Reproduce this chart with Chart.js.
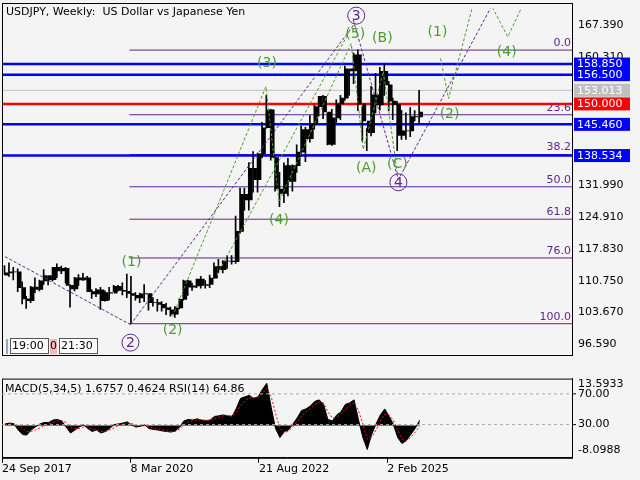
<!DOCTYPE html>
<html><head><meta charset="utf-8">
<script src="https://cdn.jsdelivr.net/npm/chart.js@4"></script>
<style>body{margin:0;background:#f4f4f4;width:640px;height:480px;overflow:hidden;position:relative}
canvas{position:absolute;left:0}</style></head><body>
<div style="position:absolute;left:0;top:0;width:640px;height:357px"><canvas id="c1"></canvas></div>
<div style="position:absolute;left:0;top:370px;width:640px;height:106px"><canvas id="c2"></canvas></div>
<script>
const startMonth = [2017, 9];
const closes = [112.5,112.7,112.7,
109.2,106.7,106.3,109.3,108.8,110.7,111.9,111.0,113.7,112.9,113.5,109.7,
108.9,111.4,110.9,111.4,108.3,107.8,108.7,106.3,108.1,108.0,109.5,108.6,
108.4,107.9,107.5,106.9,107.8,107.9,105.9,105.9,105.5,104.7,104.3,103.3,
104.7,106.6,110.7,109.3,109.6,111.1,109.7,109.9,111.3,113.9,113.2,115.1,
115.1,115.0,121.7,129.9,128.7,135.7,133.2,138.9,144.7,148.7,138.1,131.1,
130.1,136.3,132.8,136.3,139.3,144.3,142.3,145.5,149.4,151.7,148.2,141.0,
146.9,150.0,151.3,157.8,157.3,160.9,150.0,146.2,143.6,152.0,149.8,157.2,
154.2,150.6,149.9,143.0,144.0,144.0,147.2,147.1,148.2];
const highs = [114.1,114.7,113.7,
113.4,110.5,107.3,109.5,111.4,110.9,113.2,111.8,113.7,114.5,114.0,113.7,
109.9,111.5,112.1,112.4,111.7,108.8,109.0,109.3,108.5,109.3,109.7,109.7,
110.3,112.2,111.7,108.1,108.0,109.9,107.8,107.0,106.6,106.1,105.7,104.9,
105.0,106.7,110.9,110.9,110.2,111.1,111.7,110.8,112.0,114.7,115.5,115.2,
116.3,116.3,125.1,131.3,131.3,137.0,139.4,139.1,145.9,151.9,148.8,138.2,
134.8,136.9,137.9,136.5,140.9,145.1,144.8,147.4,149.7,151.7,151.9,148.0,
148.8,150.9,151.9,158.4,157.7,161.3,162.0,149.4,144.5,153.9,156.8,158.1,
158.9,155.0,151.3,150.5,148.6,148.0,149.2,148.5,153.0];
const lows = [112.1,111.7,110.9,
108.3,105.6,104.6,105.9,108.1,108.5,109.9,109.8,110.7,111.4,112.3,110.2,
104.9,108.5,109.7,110.8,108.3,106.8,107.2,104.4,106.2,106.5,108.3,108.4,
107.6,107.0,101.2,106.4,105.9,106.1,104.2,105.1,104.0,104.0,103.2,102.9,
102.6,104.5,106.4,107.5,108.6,109.2,109.1,109.1,109.2,111.3,112.5,112.5,
113.5,114.4,114.6,121.3,126.4,126.4,130.4,130.4,138.0,144.6,137.5,130.6,
127.2,128.1,129.6,130.6,134.8,138.4,137.2,141.5,144.4,147.3,146.7,140.9,
140.8,145.9,146.5,150.8,151.9,154.5,148.5,141.7,139.6,142.9,148.0,148.6,
151.9,148.5,146.5,139.6,142.1,142.1,142.7,146.2,145.5];
const firstOpen = 112.0;
const rsi = [58,62,57,
42,38,40,52,50,56,58,55,62,58,60,45,
42,52,50,52,42,40,44,36,44,45,50,48,
48,52,45,45,48,49,40,41,40,38,37,35,
45,55,68,60,60,66,60,61,65,75,70,74,
72,70,85,88,82,88,80,85,90,92,68,55,
52,62,55,62,65,72,68,72,76,78,70,55,
65,70,72,80,78,82,58,48,44,62,58,66,
60,52,52,40,45,45,55,54,65];
const macd = [0.5,0.8,0.6,
-1.5,-3.0,-3.2,-1.5,-0.5,0.5,1.0,1.0,1.8,2.0,1.5,-0.5,
-2.5,-1.5,-0.5,0.2,-1.0,-2.0,-1.5,-2.5,-2.0,-1.0,0.3,0.5,
0.8,1.2,0.2,-0.5,-0.3,0.2,-1.0,-1.3,-1.5,-1.8,-2.0,-2.2,
-1.8,-0.5,1.5,2.0,1.8,2.2,1.8,1.6,1.8,3.0,3.2,3.5,
3.2,3.0,5.5,9.0,9.5,10.0,9.0,9.5,12.0,14.0,6.0,-1.0,
-4.0,-2.0,-1.5,0.5,2.5,5.0,5.5,6.5,8.0,8.5,7.0,2.0,
1.5,3.5,4.5,7.0,7.5,8.5,2.0,-4.0,-8.0,-3.0,0.5,3.5,
5.5,3.0,0.5,-4.0,-6.0,-5.0,-3.0,-1.0,1.7];
const signal = [0.3,0.5,0.6,
0.0,-1.0,-2.0,-2.0,-1.5,-0.8,0.0,0.5,1.0,1.5,1.6,1.0,
-0.5,-1.0,-1.0,-0.5,-0.5,-1.2,-1.5,-2.0,-2.0,-1.5,-0.8,0.0,
0.4,0.8,0.6,0.2,-0.2,-0.1,-0.5,-0.9,-1.2,-1.5,-1.8,-2.0,
-2.0,-1.2,0.2,1.2,1.6,1.9,1.9,1.7,1.7,2.2,2.8,3.2,
3.3,3.1,4.2,6.5,8.2,9.2,9.2,9.3,10.6,12.3,9.5,4.0,
-1.0,-2.5,-1.8,-0.5,1.2,3.2,4.5,5.6,6.9,7.8,7.5,4.5,
2.5,2.8,3.8,5.4,6.6,7.6,5.0,0.5,-4.5,-4.0,-1.5,1.5,
3.8,3.5,1.8,-1.5,-4.5,-5.0,-4.0,-2.2,-0.3];
const xTickWeeks = [0,128,256,384];
const xTickLabels = ['24 Sep 2017','8 Mar 2020','21 Aug 2022','2 Feb 2025'];
const priceTicks = [96.59,103.67,110.75,117.83,124.91,131.99,160.31,167.39];
const blueLevels = [158.85,156.5,145.46,138.534];
const redLevel = 150.0;
const grayLevel = 153.013;
const fibLevels = [161.95,147.6,138.75,131.6,124.4,115.8,101.2];
const fibNames = ['0.0','23.6','38.2','50.0','61.8','76.0','100.0'];
const greenPath1 = [[170,102.8],[263,153.85],[276,128.3],[348,163.4],[360,139.9],[380,157.2],[394,134.5]];
const greenPath2 = [[437,160.1],[445,151.2],[471,173.4]];
const greenPath3 = [[484,173.4],[504,164.9],[522,173.4]];
const purplePath1 = [[350,168.7],[395,133.2],[492,173.4]];
const purplePath2 = [[3,116.1],[128,101.0]];
const purplePath3 = [[128,101.0],[352,168.0]];
const greenPath4 = [[214,112.0],[346,166.0]];
const waveLabels = [
 ['3','p',353,169.6],['(5)','g',352,165.4],['(B)','g',379,164.5],['(3)','g',264,159.0],
 ['(1)','g',434,165.8],['(4)','g',503,161.4],['(2)','g',446,147.6],['(A)','g',363,135.7],
 ['(C)','g',394,136.5],['4','p',395,132.6],['(4)','g',276,124.1],['(1)','g',129,114.8],
 ['(2)','g',170,99.7],['2','p',128,97.0]];

const W0 = new Date(2017,8,24).getTime();
const WEEK = 7*24*3600*1000;
const xs = closes.map((_,i)=>{const d=new Date(startMonth[0],startMonth[1]+i,15);return (d.getTime()-W0)/WEEK;});
const opens = closes.map((c,i)=> i===0?firstOpen:closes[i-1]);
const XMAX = 568;
const GREEN='#4a9e2a', PURPLE='#5e2590';
const pts = a=>a.map(p=>({x:p[0],y:p[1]}));
const hline=(v,c,w,x0)=>({type:'line',data:[{x:x0||0,y:v},{x:XMAX,y:v}],borderColor:c,borderWidth:w,pointRadius:0,order:5});
const dashed=(a,c)=>({type:'line',data:pts(a),borderColor:c,borderWidth:1,borderDash:[3,2],pointRadius:0,order:1});

const ds=[];
blueLevels.forEach(v=>ds.push(hline(v,'#0000ff',2.5)));
ds.push(hline(redLevel,'#ff0000',2.5));
ds.push(hline(grayLevel,'#c0c0c0',1));
fibLevels.forEach(v=>ds.push(hline(v,PURPLE,1,127)));
ds.push({type:'bar',data:xs.map((x,i)=>({x,y:[lows[i],highs[i]]})),backgroundColor:'#000',barThickness:1,order:2});
ds.push({type:'bar',data:xs.map((x,i)=>({x,y:[Math.min(opens[i],closes[i]),Math.max(opens[i],closes[i])+0.01]})),backgroundColor:'#000',barThickness:3,order:2});
[greenPath1,greenPath2,greenPath3,greenPath4].forEach(a=>ds.push(dashed(a,GREEN)));
[purplePath1,purplePath2,purplePath3].forEach(a=>ds.push(dashed(a,PURPLE)));

const FONT='"DejaVu Sans", sans-serif';
const overlay1={id:'ov1',afterDraw(ch){
 const c=ch.ctx,x=ch.scales.x,y=ch.scales.y,a=ch.chartArea;
 c.save();
 c.strokeStyle='#000';c.lineWidth=1;c.strokeRect(2.5,3.5,a.right-2,352);
 c.font='11px '+FONT;c.fillStyle='#000';c.textBaseline='middle';c.textAlign='left';
 c.fillText('USDJPY, Weekly:  US Dollar vs Japanese Yen',6,12);
 c.textAlign='right';c.fillStyle=PURPLE;
 fibLevels.forEach((v,i)=>c.fillText(fibNames[i],a.right-1,y.getPixelForValue(v)-7));
 const box=(v,bg,fg)=>{const py=y.getPixelForValue(v);c.fillStyle=bg;c.fillRect(a.right+2,py-6.5,56,13);c.fillStyle=fg;c.textAlign='left';c.fillText(v.toFixed(3),a.right+5,py+0.5);};
 box(158.85,'#0000ff','#fff');box(156.5,'#0000ff','#fff');box(grayLevel,'#c0c0c0','#fff');box(redLevel,'#ff0000','#fff');box(145.46,'#0000ff','#fff');box(138.534,'#0000ff','#fff');
 c.font='14px '+FONT;c.textAlign='center';
 waveLabels.forEach(([t,k,wx,wy])=>{const px=x.getPixelForValue(wx),py=y.getPixelForValue(wy);
  if(k==='p'){c.strokeStyle=PURPLE;c.lineWidth=1;c.beginPath();c.arc(px,py,8.5,0,Math.PI*2);c.stroke();c.fillStyle=PURPLE;c.fillText(t,px,py+1);}
  else{c.fillStyle=GREEN;c.fillText(t,px,py);}});
 c.font='11px '+FONT;c.textAlign='left';c.lineWidth=1;c.strokeStyle='#555';
 c.fillStyle='#fff';c.fillRect(10,355-17,38,15);c.strokeRect(10.5,338.5,38,15);c.fillStyle='#000';c.fillText('19:00',12,346);
 c.fillStyle='#f7b8b8';c.fillRect(50,339,7,15);c.fillStyle='#000';c.fillText('0',50,346);
 c.fillStyle='#fff';c.fillRect(59,339,38,15);c.strokeRect(59.5,338.5,38,15);c.fillStyle='#000';c.fillText('21:30',61,346);
 c.fillStyle='#8ac';c.fillRect(6,339,2,15);
 c.restore();}};

new Chart(document.getElementById('c1'),{data:{datasets:ds},plugins:[overlay1],
 options:{responsive:true,maintainAspectRatio:false,animation:false,
  layout:{padding:{left:2,top:2,bottom:0,right:0}},
  plugins:{legend:{display:false},tooltip:{enabled:false}},
  scales:{x:{type:'linear',min:0,max:XMAX,display:false,offset:false},
   y:{position:'right',min:95.72,max:171.16,grid:{display:false,drawTicks:true,tickLength:4,color:'#000'},border:{color:'#000'},
    afterBuildTicks:s=>{s.ticks=priceTicks.map(v=>({value:v}));},
    afterFit:s=>{s.width=68;},
    ticks:{color:'#000',font:{size:11,family:'"DejaVu Sans", sans-serif'},padding:2,callback:v=>v.toFixed(3)}}}}});

const overlay2={id:'ov2',afterDraw(ch){
 const c=ch.ctx,r=ch.scales.r,a=ch.chartArea;
 c.save();c.strokeStyle='#000';c.lineWidth=1;c.strokeRect(a.left+0.5,a.top+0.5,a.width,a.height);
 c.font='11px '+FONT;c.textBaseline='middle';c.fillStyle='#000';c.textAlign='left';
 c.fillText('MACD(5,34,5) 1.6757 0.4624 RSI(14) 64.86',5,a.top+11);
 [70,30].forEach(v=>{const py=r.getPixelForValue(v);c.strokeStyle='#aaa';c.setLineDash([3,3]);c.beginPath();c.moveTo(a.left,py);c.lineTo(a.right,py);c.stroke();c.setLineDash([]);
  c.strokeStyle='#000';c.beginPath();c.moveTo(a.right,py);c.lineTo(a.right+4,py);c.stroke();c.fillStyle='#000';c.fillText(v.toFixed(2),a.right+6,py);});
 c.restore();}};

new Chart(document.getElementById('c2'),{data:{datasets:[
  {type:'line',data:xs.map((x,i)=>({x,y:rsi[i]})),yAxisID:'r',borderColor:'#2b8ff0',borderWidth:1.5,pointRadius:0,order:1},
  {type:'line',data:xs.map((x,i)=>({x,y:signal[i]})),yAxisID:'y',borderColor:'#ff0000',borderWidth:1,borderDash:[2,2],pointRadius:0,order:2},
  {type:'line',data:xs.map((x,i)=>({x,y:macd[i]})),yAxisID:'y',borderColor:'#000',backgroundColor:'#000',fill:'origin',borderWidth:1,pointRadius:0,order:3}]},
 plugins:[overlay2],
 options:{responsive:true,maintainAspectRatio:false,animation:false,
  layout:{padding:{left:2,top:5,right:0,bottom:0}},
  plugins:{legend:{display:false},tooltip:{enabled:false}},
  scales:{x:{type:'linear',min:0,max:XMAX,grid:{display:true,drawOnChartArea:false,tickLength:5,color:'#000'},border:{color:'#000'},
    afterBuildTicks:s=>{s.ticks=xTickWeeks.map(v=>({value:v}));},
    ticks:{color:'#000',maxRotation:0,autoSkip:false,align:'start',padding:0,font:{size:11,family:'"DejaVu Sans", sans-serif'},callback:(v)=>xTickLabels[xTickWeeks.indexOf(v)]}},
   y:{position:'right',min:-10.73,max:15.56,grid:{display:false,tickLength:4,color:'#000'},border:{color:'#000'},
    afterBuildTicks:s=>{s.ticks=[{value:13.5933},{value:-8.0988}];},
    afterFit:s=>{s.width=68;},
    ticks:{color:'#000',padding:2,font:{size:11,family:'"DejaVu Sans", sans-serif'},callback:v=>v.toFixed(4)}},
   r:{display:false,min:-2,max:101}}}});
</script></body></html>
